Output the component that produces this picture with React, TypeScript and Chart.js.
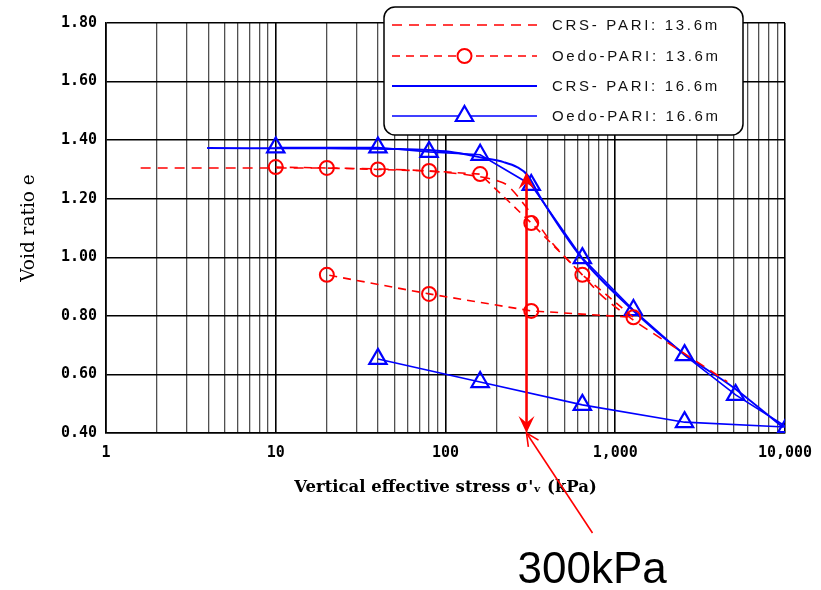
import React, { useEffect, useRef } from "react";
import { Chart, registerables } from "chart.js";

Chart.register(...registerables);

// ---- Data (stress in kPa, void ratio e) ----
const crs136Stress = [1.6, 10, 50, 100, 160, 200, 230, 300, 410, 640, 830, 1250, 2500, 4570];
const crs136E = [1.305, 1.305, 1.3, 1.29, 1.275, 1.262, 1.247, 1.17, 1.06, 0.94, 0.87, 0.79, 0.675, 0.575];

const oedo136Stress = [10, 20, 40, 80, 160, 320, 640, 1280, 320, 80, 20];
const oedo136E = [1.308, 1.305, 1.3, 1.295, 1.284, 1.117, 0.94, 0.795, 0.817, 0.875, 0.94];

const crs166Stress = [3.94, 20, 50, 106, 167, 220, 264, 305, 361, 650, 1210, 2500, 4920, 9700];
const crs166E = [1.373, 1.372, 1.37, 1.36, 1.339, 1.325, 1.308, 1.28, 1.206, 0.99, 0.83, 0.673, 0.557, 0.42];

const oedo166Stress = [10, 40, 80, 160, 320, 640, 1280, 2560, 5120, 10240, 2560, 640, 160, 40];
const oedo166E = [1.375, 1.375, 1.36, 1.35, 1.247, 0.997, 0.82, 0.666, 0.53, 0.42, 0.437, 0.496, 0.574, 0.653];

const seriesLabels = ["CRS- PARI: 13.6m", "Oedo-PARI: 13.6m", "CRS- PARI: 16.6m", "Oedo-PARI: 16.6m"];

// ---- Axes ----
const xMajorTicks = [1, 10, 100, 1000, 10000];
const xTickLabels = ["1", "10", "100", "1,000", "10,000"];
const xMinorMultipliers = [2, 3, 4, 5, 6, 7, 8, 9];
const yTicks = [0.4, 0.6, 0.8, 1.0, 1.2, 1.4, 1.6, 1.8];
const yTickLabels = ["0.40", "0.60", "0.80", "1.00", "1.20", "1.40", "1.60", "1.80"];
const xTitle = "Vertical effective stress σ'ᵥ (kPa)";
const yTitle = "Void ratio e";

// ---- Annotation ----
const arrowStress = 300;
const arrowTopE = 1.29;
const arrowBottomE = 0.4;
const calloutText = "300kPa";

const RED = "#ff0000";
const BLUE = "#0000ff";

const toPts = (xs: number[], ys: number[]) => xs.map((x, i) => ({ x, y: ys[i] }));

function drawBarbHead(ctx: CanvasRenderingContext2D, tx: number, ty: number, dir: number, len: number, half: number) {
  ctx.beginPath();
  ctx.moveTo(tx, ty);
  ctx.lineTo(tx - half, ty - dir * len);
  ctx.lineTo(tx, ty - dir * len * 0.6);
  ctx.lineTo(tx + half, ty - dir * len);
  ctx.closePath();
  ctx.fill();
}

const annotationPlugin = {
  id: "annot",
  afterDatasetsDraw(chart: any) {
    const ctx = chart.ctx as CanvasRenderingContext2D;
    const xs = chart.scales.x;
    const ys = chart.scales.y;
    const ax = xs.getPixelForValue(arrowStress);
    const yTop = ys.getPixelForValue(arrowTopE);
    const yBot = ys.getPixelForValue(arrowBottomE);
    ctx.save();
    ctx.strokeStyle = RED;
    ctx.fillStyle = RED;
    ctx.lineWidth = 2.5;
    ctx.beginPath();
    ctx.moveTo(ax, yTop + 8);
    ctx.lineTo(ax, yBot - 8);
    ctx.stroke();
    drawBarbHead(ctx, ax, yTop, -1, 17, 8);
    drawBarbHead(ctx, ax, yBot, 1, 17, 8);
    ctx.restore();
  },
  afterDraw(chart: any) {
    const ctx = chart.ctx as CanvasRenderingContext2D;
    const xs = chart.scales.x;
    const ys = chart.scales.y;
    const ax = xs.getPixelForValue(arrowStress);
    const yBot = ys.getPixelForValue(arrowBottomE);
    const ex = ax + 66;
    const ey = yBot + 100;
    ctx.save();
    ctx.strokeStyle = RED;
    ctx.lineWidth = 1.6;
    ctx.beginPath();
    ctx.moveTo(ax, yBot);
    ctx.lineTo(ex, ey);
    ctx.stroke();
    const ang = Math.atan2(ey - yBot, ex - ax);
    const hl = 14;
    ctx.beginPath();
    ctx.moveTo(ax + hl * Math.cos(ang - 0.45), yBot + hl * Math.sin(ang - 0.45));
    ctx.lineTo(ax, yBot);
    ctx.lineTo(ax + hl * Math.cos(ang + 0.45), yBot + hl * Math.sin(ang + 0.45));
    ctx.stroke();
    ctx.fillStyle = "#000";
    ctx.font = '44px "Liberation Sans", Arial, sans-serif';
    ctx.textAlign = "left";
    ctx.textBaseline = "alphabetic";
    ctx.fillText(calloutText, ax - 9, 583);
    ctx.restore();

    // legend box
    const bx = 384, by = 7, bw = 359, bh = 128, r = 11;
    ctx.save();
    ctx.beginPath();
    ctx.moveTo(bx + r, by);
    ctx.lineTo(bx + bw - r, by);
    ctx.arcTo(bx + bw, by, bx + bw, by + r, r);
    ctx.lineTo(bx + bw, by + bh - r);
    ctx.arcTo(bx + bw, by + bh, bx + bw - r, by + bh, r);
    ctx.lineTo(bx + r, by + bh);
    ctx.arcTo(bx, by + bh, bx, by + bh - r, r);
    ctx.lineTo(bx, by + r);
    ctx.arcTo(bx, by, bx + r, by, r);
    ctx.closePath();
    ctx.fillStyle = "#fff";
    ctx.fill();
    ctx.strokeStyle = "#000";
    ctx.lineWidth = 1.5;
    ctx.stroke();

    const rowY = [25, 56, 86, 116];
    const lx0 = 392, lx1 = 537, tx = 552;
    chart.data.datasets.forEach((ds: any, i: number) => {
      const y = rowY[i];
      ctx.strokeStyle = ds.borderColor;
      ctx.lineWidth = ds.borderWidth;
      ctx.setLineDash(ds.borderDash || []);
      ctx.beginPath();
      ctx.moveTo(lx0, y);
      ctx.lineTo(lx1, y);
      ctx.stroke();
      ctx.setLineDash([]);
      const cx = (lx0 + lx1) / 2;
      if (ds.pointStyle === "circle" && ds.pointRadius > 0) {
        ctx.fillStyle = "#fff";
        ctx.beginPath();
        ctx.arc(cx, y, ds.pointRadius, 0, Math.PI * 2);
        ctx.fill();
        ctx.lineWidth = ds.pointBorderWidth;
        ctx.strokeStyle = ds.borderColor;
        ctx.stroke();
      } else if (ds.pointStyle === "triangle" && ds.pointRadius > 0) {
        const rr = ds.pointRadius;
        ctx.fillStyle = "#fff";
        ctx.beginPath();
        ctx.moveTo(cx, y - rr);
        ctx.lineTo(cx + rr * Math.sin((2 * Math.PI) / 3), y - rr * Math.cos((2 * Math.PI) / 3));
        ctx.lineTo(cx + rr * Math.sin((4 * Math.PI) / 3), y - rr * Math.cos((4 * Math.PI) / 3));
        ctx.closePath();
        ctx.fill();
        ctx.lineWidth = ds.pointBorderWidth;
        ctx.strokeStyle = ds.borderColor;
        ctx.stroke();
      }
      ctx.fillStyle = "#111";
      ctx.font = '15px "Liberation Sans", Arial, sans-serif';
      (ctx as any).letterSpacing = "2.7px";
      ctx.textAlign = "left";
      ctx.textBaseline = "middle";
      ctx.fillText(ds.label, tx, y + 1);
      (ctx as any).letterSpacing = "0px";
    });
    ctx.restore();
  },
};

export default function App() {
  const ref = useRef<HTMLCanvasElement | null>(null);

  useEffect(() => {
    if (!ref.current) return;
    const isMajor = (v: number) => xMajorTicks.includes(v);
    const chart = new Chart(ref.current, {
      type: "line",
      data: {
        datasets: [
          {
            label: seriesLabels[0],
            data: toPts(crs136Stress, crs136E),
            borderColor: RED,
            backgroundColor: RED,
            borderWidth: 1.6,
            borderDash: [10, 7],
            pointRadius: 0,
            pointStyle: "line",
            cubicInterpolationMode: "monotone",
          },
          {
            label: seriesLabels[1],
            data: toPts(oedo136Stress, oedo136E),
            borderColor: RED,
            backgroundColor: "#fff",
            borderWidth: 1.6,
            borderDash: [8, 6],
            pointStyle: "circle",
            pointRadius: 7,
            pointBorderWidth: 2,
            pointBorderColor: RED,
            pointBackgroundColor: "rgba(255,255,255,0)",
            tension: 0,
          },
          {
            label: seriesLabels[2],
            data: toPts(crs166Stress, crs166E),
            borderColor: BLUE,
            backgroundColor: BLUE,
            borderWidth: 2,
            pointRadius: 0,
            pointStyle: "line",
            cubicInterpolationMode: "monotone",
          },
          {
            label: seriesLabels[3],
            data: toPts(oedo166Stress, oedo166E),
            borderColor: BLUE,
            backgroundColor: "#fff",
            borderWidth: 1.6,
            pointStyle: "triangle",
            pointRadius: 10,
            pointBorderWidth: 2.2,
            pointBorderColor: BLUE,
            pointBackgroundColor: "rgba(255,255,255,0)",
            tension: 0,
          },
        ],
      },
      options: {
        animation: false,
        responsive: false,
        devicePixelRatio: 1,
        layout: { padding: { left: 0, right: 36, top: 23, bottom: 0 } },
        plugins: {
          legend: { display: false },
          tooltip: { enabled: false },
        },
        scales: {
          x: {
            type: "logarithmic",
            min: 1,
            max: 10000,
            afterBuildTicks: (scale: any) => {
              const vals: number[] = [];
              for (let i = 0; i < xMajorTicks.length; i++) {
                vals.push(xMajorTicks[i]);
                if (i < xMajorTicks.length - 1) {
                  xMinorMultipliers.forEach((m) => vals.push(xMajorTicks[i] * m));
                }
              }
              scale.ticks = vals.map((v) => ({ value: v }));
            },
            afterFit: (scale: any) => {
              scale.height = 157;
              scale.paddingRight = 0;
              scale.paddingLeft = 0;
            },
            ticks: {
              autoSkip: false,
              maxRotation: 0,
              padding: 11,
              color: "#000",
              font: { family: '"DejaVu Sans Mono", monospace', weight: "bold", size: 15 },
              callback: (value: any) => {
                const i = xMajorTicks.indexOf(Number(value));
                return i >= 0 ? xTickLabels[i] : "";
              },
            },
            grid: {
              drawTicks: false,
              color: (c: any) => (isMajor(c.tick?.value) ? "#000" : "#505050"),
              lineWidth: (c: any) => (isMajor(c.tick?.value) ? 1.6 : 1.3),
            },
            border: { display: true, color: "#000", width: 1.6 },
            title: {
              display: true,
              text: xTitle,
              color: "#000",
              font: { family: '"DejaVu Serif", serif', weight: "bold", size: 16.5 },
              padding: { top: 0, bottom: 92 },
            },
          },
          y: {
            type: "linear",
            min: 0.4,
            max: 1.8,
            afterBuildTicks: (scale: any) => {
              scale.ticks = yTicks.map((v) => ({ value: v }));
            },
            afterFit: (scale: any) => {
              scale.width = 106;
            },
            ticks: {
              padding: 9,
              color: "#000",
              font: { family: '"DejaVu Sans Mono", monospace', weight: "bold", size: 15 },
              callback: (value: any) => {
                const i = yTicks.findIndex((t) => Math.abs(t - Number(value)) < 1e-6);
                return i >= 0 ? yTickLabels[i] : "";
              },
            },
            grid: {
              drawTicks: false,
              color: "#000",
              lineWidth: 1.5,
            },
            border: { display: true, color: "#000", width: 1.6 },
            title: {
              display: true,
              text: yTitle,
              color: "#000",
              font: { family: '"DejaVu Serif", serif', size: 18.5 },
              padding: { top: 18, bottom: 0 },
            },
          },
        },
      } as any,
      plugins: [annotationPlugin],
    });
    return () => chart.destroy();
  }, []);

  return (
    <div style={{ position: "absolute", left: 0, top: 0, width: 821, height: 590, background: "#fff" }}>
      <canvas ref={ref} width={821} height={590} style={{ width: 821, height: 590, display: "block" }} />
    </div>
  );
}
